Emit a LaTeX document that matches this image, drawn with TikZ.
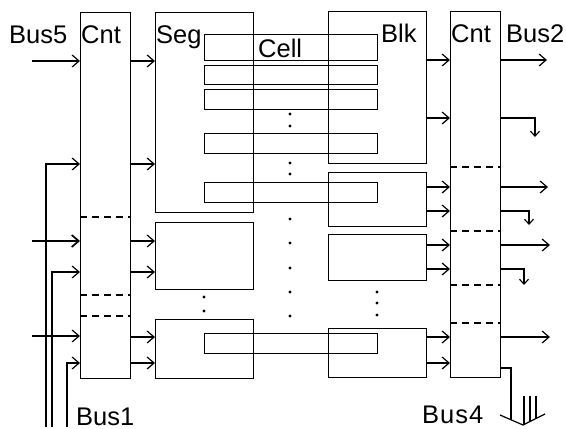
\documentclass[tikz,border=0pt]{standalone}
\usepackage{fontspec}
\setmainfont{Liberation Sans}
\usetikzlibrary{arrows.meta}
\begin{document}
\begin{tikzpicture}[x=1pt,y=-1pt,
  box/.style={draw, line width=1.3pt, inner sep=0pt, anchor=north west},
  arr/.style={line width=1.2pt, -{Straight Barb[length=7pt,width=12pt]}},
  sarr/.style={line width=1.1pt, -{Straight Barb[length=5pt,width=9pt]}},
  ln/.style={line width=1.2pt},
  dsh/.style={line width=1.3pt, dash pattern=on 7pt off 5pt},
  lbl/.style={anchor=base west, inner sep=0pt, font=\fontsize{25.5}{25.5}\selectfont},
  dot/.style={circle, fill, inner sep=0pt, minimum size=3.4pt}]
\useasboundingbox (0,0) rectangle (566,429);
% main blocks
\node[box, minimum width=50pt, minimum height=366pt] (lcnt) at (80,12) {};
\node[box, minimum width=98pt, minimum height=200pt] (seg1) at (155,12) {};
\node[box, minimum width=98pt, minimum height=67pt] (seg2) at (155,222) {};
\node[box, minimum width=98pt, minimum height=59pt] (seg3) at (155,319) {};
\node[box, minimum width=98pt, minimum height=152pt] (blk1) at (328,11) {};
\node[box, minimum width=98pt, minimum height=54pt] (blk2) at (328,172) {};
\node[box, minimum width=98pt, minimum height=46pt] (blk3) at (328,234) {};
\node[box, minimum width=98pt, minimum height=49pt] (blk4) at (328,328) {};
\node[box, minimum width=50pt, minimum height=366pt] (rcnt) at (450,11) {};
% cells
\node[box, minimum width=173pt, minimum height=26pt] (cell1) at (204,34) {};
\node[box, minimum width=173pt, minimum height=19pt] (cell2) at (204,65) {};
\node[box, minimum width=173pt, minimum height=20pt] (cell3) at (204,89) {};
\node[box, minimum width=173pt, minimum height=20pt] (cell4) at (204,133) {};
\node[box, minimum width=173pt, minimum height=20pt] (cell5) at (204,182) {};
\node[box, minimum width=173pt, minimum height=20pt] (cell6) at (204,333) {};
% dashed separators
\foreach \y in {217,295,316} \draw[dsh] (lcnt.west |- 0,\y) -- (lcnt.east |- 0,\y);
\foreach \y in {167,231,285,323} \draw[dsh] (rcnt.west |- 0,\y) -- (rcnt.east |- 0,\y);
% dots
\node[dot] (d1) at (290,114) {};
\node[dot] (d2) at (290,126) {};
\node[dot] (d3) at (290,163) {};
\node[dot] (d4) at (290,174) {};
\node[dot] (d5) at (290,219) {};
\node[dot] (d6) at (290,243) {};
\node[dot] (d7) at (290,268) {};
\node[dot] (d8) at (290,292) {};
\node[dot] (d9) at (290,316) {};
\node[dot] (d10) at (204,297) {};
\node[dot] (d11) at (204,311) {};
\node[dot] (d12) at (377,292) {};
\node[dot] (d13) at (377,303) {};
\node[dot] (d14) at (377,315) {};
% labels
\node[lbl] (bus5) at (9,43) {Bus5};
\node[lbl] (lcntl) at (81,43) {Cnt};
\node[lbl] (segl) at (156,43) {Seg};
\node[lbl] (celll) at (258,57) {Cell};
\node[lbl] (blkl) at (381,42) {Blk};
\node[lbl] (rcntl) at (451,42) {Cnt};
\node[lbl] (bus2) at (506,42) {Bus2};
\node[lbl] (bus1) at (76,425) {Bus1};
\node[lbl] (bus4) at (422,423) {B\kern1pt u\kern1pt s\kern1pt 4};
% free ends
\coordinate (in5) at (32,61);
\coordinate (inA) at (32,241);
\coordinate (inB) at (32,336);
\coordinate (b1) at (46,427);
\coordinate (b2) at (52,427);
\coordinate (b3) at (67,427);
% left inputs
\draw[arr] (in5) -- (lcnt.west |- in5);
\draw[arr, line width=1.7pt] (inA) -- (lcnt.west |- inA);
\draw[arr] (inB) -- (lcnt.west |- inB);
\draw[arr] (b1) |- (lcnt.west |- 0,164);
\draw[arr] (b2) |- (lcnt.west |- 0,272);
\draw[arr] (b3) |- (lcnt.west |- 0,363);
% left Cnt to segments
\draw[arr] (lcnt.east |- 0,61) -- (seg1.west |- 0,61);
\draw[arr] (lcnt.east |- 0,164) -- (seg1.west |- 0,164);
\draw[arr] (lcnt.east |- 0,241) -- (seg2.west |- 0,241);
\draw[arr] (lcnt.east |- 0,272) -- (seg2.west |- 0,272);
\draw[arr] (lcnt.east |- 0,337) -- (seg3.west |- 0,337);
\draw[arr] (lcnt.east |- 0,363) -- (seg3.west |- 0,363);
% blocks to right Cnt
\draw[arr] (blk1.east |- 0,60) -- (rcnt.west |- 0,60);
\draw[arr] (blk1.east |- 0,118) -- (rcnt.west |- 0,118);
\draw[arr] (blk2.east |- 0,187) -- (rcnt.west |- 0,187);
\draw[arr] (blk2.east |- 0,211) -- (rcnt.west |- 0,211);
\draw[arr] (blk3.east |- 0,245) -- (rcnt.west |- 0,245);
\draw[arr] (blk3.east |- 0,269) -- (rcnt.west |- 0,269);
\draw[arr] (blk4.east |- 0,337) -- (rcnt.west |- 0,337);
\draw[arr] (blk4.east |- 0,363) -- (rcnt.west |- 0,363);
% right outputs
\coordinate (o1) at (547,60);
\coordinate (o2) at (535,137);
\coordinate (o3) at (548,187);
\coordinate (o4) at (529,225);
\coordinate (o5) at (550,245);
\coordinate (o6) at (524,285);
\coordinate (o7) at (550,337);
\draw[arr] (rcnt.east |- o1) -- (o1);
\draw[sarr] (rcnt.east |- 0,118) -| (o2);
\draw[arr] (rcnt.east |- o3) -- (o3);
\draw[sarr] (rcnt.east |- 0,211) -| (o4);
\draw[arr] (rcnt.east |- o5) -- (o5);
\draw[sarr] (rcnt.east |- 0,269) -| (o6);
\draw[arr] (rcnt.east |- o7) -- (o7);
% Bus4 output
\coordinate (v1) at (500,415);
\coordinate (vt) at (523,425);
\coordinate (v2) at (545,414);
\coordinate (b4end) at (511,420);
\draw[ln] (rcnt.east |- 0,368) -| (b4end);
\draw[ln] (v1) -- (vt) -- (v2);
\draw[ln] (524,396) -- (524,424);
\draw[ln] (530,396) -- (530,421);
\draw[ln] (536,396) -- (536,419);
\end{tikzpicture}
\end{document}
